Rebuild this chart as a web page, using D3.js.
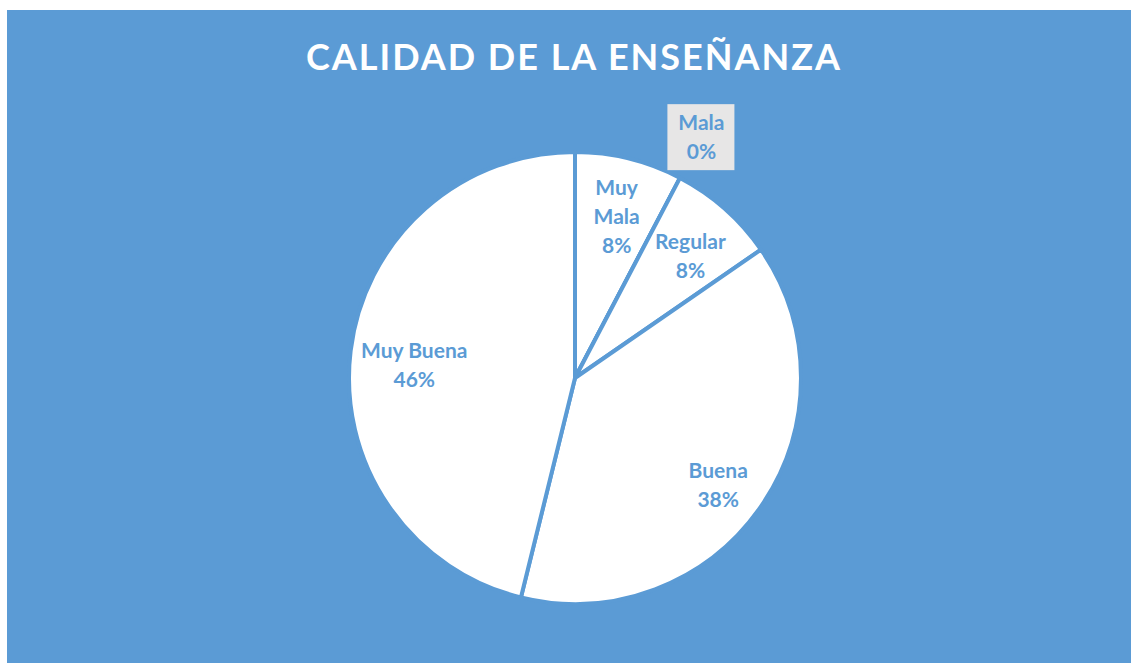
<!DOCTYPE html>
<html>
<head>
<meta charset="utf-8">
<script src="https://cdn.jsdelivr.net/npm/d3@7"></script>
<style>
  body { margin: 0; background: #fff; }
  text { font-family: Lato, "Open Sans", sans-serif; font-weight: bold; }
</style>
</head>
<body>
<div class="canvas"></div>
<script>
// survey answers (counts), clockwise from 12 o'clock
const categories = ['Muy Mala', 'Mala', 'Regular', 'Buena', 'Muy Buena'];
const counts = [1, 0, 1, 5, 6];
const labelLines = [['Muy', 'Mala'], ['Mala'], ['Regular'], ['Buena'], ['Muy Buena']];
const title = 'CALIDAD DE LA ENSEÑANZA';

const dims = { width: 1131, height: 663, radius: 226 };
const cent = { x: 575, y: 378 };
const blue = '#5b9bd5';

const svg = d3.select('.canvas')
    .append('svg')
    .attr('width', dims.width)
    .attr('height', dims.height);

// chart area
svg.append('rect')
    .attr('x', 7)
    .attr('y', 10)
    .attr('width', dims.width - 7)
    .attr('height', dims.height - 10)
    .attr('fill', blue);

svg.append('text')
    .attr('x', 574)
    .attr('y', 70)
    .attr('text-anchor', 'middle')
    .attr('fill', '#fff')
    .attr('font-size', 36)
    .attr('letter-spacing', 2)
    .text(title);

const data = categories.map((name, i) => ({ name, value: counts[i], lines: labelLines[i] }));
const total = d3.sum(counts);

const pie = d3.pie()
    .sort(null)
    .value(d => d.value);

const arcPath = d3.arc()
    .outerRadius(dims.radius)
    .innerRadius(0);

const labelArc = d3.arc()
    .outerRadius(dims.radius * 0.77)
    .innerRadius(dims.radius * 0.77);

const outArc = d3.arc()
    .outerRadius(272)
    .innerRadius(272);

const graph = svg.append('g')
    .attr('transform', `translate(${cent.x}, ${cent.y})`);

const angles = pie(data);

graph.selectAll('path')
    .data(angles)
    .enter()
    .append('path')
    .attr('d', arcPath)
    .attr('fill', '#fff')
    .attr('stroke', blue)
    .attr('stroke-width', 4)
    .attr('stroke-linejoin', 'round');

const lineH = 29;

const labels = graph.selectAll('g.label')
    .data(angles)
    .enter()
    .append('g')
    .attr('class', 'label')
    .attr('transform', d => {
        const c = d.data.value === 0 ? outArc.centroid(d) : labelArc.centroid(d);
        return `translate(${c[0]}, ${c[1]})`;
    });

// zero slice gets a grey box outside the pie
labels.filter(d => d.data.value === 0)
    .append('rect')
    .attr('x', -34)
    .attr('y', -33)
    .attr('width', 67)
    .attr('height', 66)
    .attr('fill', '#e7e6e6');

labels.each(function(d) {
    const lines = d.data.lines.concat([Math.round(d.data.value / total * 100) + '%']);
    const top = -(lines.length - 1) * lineH / 2 + (d.data.value === 0 ? 0 : 8);
    d3.select(this).selectAll('text')
        .data(lines)
        .enter()
        .append('text')
        .attr('x', d.data.name === 'Muy Buena' ? 12 : 0)
        .attr('y', (l, i) => top + i * lineH)
        .attr('dy', '0.35em')
        .attr('text-anchor', 'middle')
        .attr('font-size', 21)
        .attr('fill', blue)
        .text(l => l);
});
</script>
</body>
</html>
